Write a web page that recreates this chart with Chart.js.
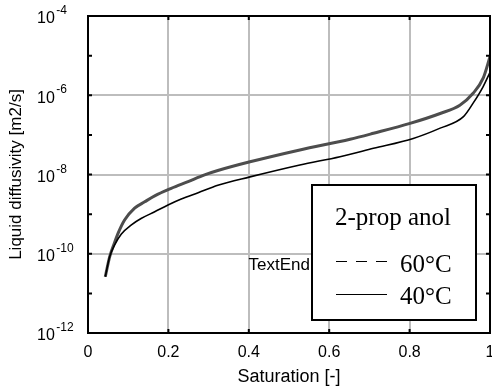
<!DOCTYPE html>
<html>
<head>
<meta charset="utf-8">
<script src="https://cdn.jsdelivr.net/npm/chart.js@4"></script>
<style>
  body { margin: 0; background: #fff; }
</style>
</head>
<body>
<canvas id="myChart" width="492" height="391"></canvas>
<script>
// saturation [-] and log10 of liquid diffusivity [m2/s]
const sat60 = [0.043, 0.054, 0.066, 0.075, 0.091, 0.116, 0.141, 0.166, 0.207, 0.249, 0.290, 0.323, 0.403, 0.527, 0.652, 0.710, 0.801, 0.876, 0.925, 0.958, 0.983, 1.0];
const exp60 = [-10.58, -10.07, -9.72, -9.48, -9.15, -8.85, -8.69, -8.54, -8.35, -8.18, -8.01, -7.90, -7.68, -7.38, -7.11, -6.96, -6.71, -6.46, -6.25, -5.95, -5.57, -5.03];

const sat40 = [0.043, 0.054, 0.066, 0.083, 0.108, 0.132, 0.166, 0.199, 0.232, 0.274, 0.323, 0.403, 0.527, 0.627, 0.710, 0.809, 0.876, 0.934, 0.958, 0.983, 1.0];
const exp40 = [-10.58, -10.07, -9.78, -9.50, -9.27, -9.11, -8.94, -8.77, -8.62, -8.46, -8.27, -8.06, -7.76, -7.55, -7.34, -7.09, -6.83, -6.54, -6.20, -5.78, -5.42];

const seriesLabels = ['60°C', '40°C'];
const legendTitle = '2-prop anol';
const yExps = [-12, -11, -10, -9, -8, -7, -6, -5, -4];
const xMajor = [0.2, 0.4, 0.6, 0.8];

const sans = "'Liberation Sans', Arial, Helvetica, sans-serif";
const serif = "'Liberation Serif', 'Times New Roman', serif";

const toPoints = (xs, es) => xs.map((s, i) => ({x: s, y: Math.pow(10, es[i])}));

const framePlugin = {
  id: 'frame',
  afterDraw(chart) {
    const {ctx, chartArea: a, scales} = chart;
    const x = scales.x, y = scales.y;
    ctx.save();

    // inward tick marks
    ctx.strokeStyle = '#000';
    ctx.lineWidth = 2;
    ctx.beginPath();
    xMajor.forEach(v => {
      const px = x.getPixelForValue(v);
      ctx.moveTo(px, a.top); ctx.lineTo(px, a.top + 4);
      ctx.moveTo(px, a.bottom); ctx.lineTo(px, a.bottom - 4);
    });
    yExps.forEach(e => {
      const py = y.getPixelForValue(Math.pow(10, e));
      ctx.moveTo(a.left, py); ctx.lineTo(a.left + 4, py);
      ctx.moveTo(a.right, py); ctx.lineTo(a.right - 4, py);
    });
    ctx.stroke();

    // frame
    ctx.strokeRect(a.left, a.top, a.right - a.left, a.bottom - a.top);

    // y tick labels with superscript exponent
    ctx.fillStyle = '#000';
    ctx.textAlign = 'left';
    ctx.textBaseline = 'alphabetic';
    yExps.filter(e => e % 2 === 0).forEach(e => {
      const py = y.getPixelForValue(Math.pow(10, e));
      ctx.font = '16px ' + sans;
      ctx.fillText('10', 37, py + 7.3);
      const w = ctx.measureText('10').width;
      ctx.font = '12px ' + sans;
      ctx.fillText('-' + Math.abs(e), 37 + w + 1.5, py - 2);
    });

    // stray label
    ctx.font = '17px ' + sans;
    ctx.textAlign = 'right';
    ctx.fillText('TextEnd', 310, 270);

    // legend box
    const bx = 312, by = 185, bw = 164, bh = 135;
    ctx.fillStyle = '#fff';
    ctx.fillRect(bx, by, bw, bh);
    ctx.lineWidth = 2;
    ctx.strokeRect(bx, by, bw, bh);
    ctx.fillStyle = '#000';
    ctx.textAlign = 'left';
    ctx.font = '25px ' + serif;
    ctx.fillText(legendTitle, 335, 225);

    ctx.lineWidth = 1;
    ctx.setLineDash([11, 9]);
    ctx.beginPath();
    ctx.moveTo(336, 261.5); ctx.lineTo(387, 261.5);
    ctx.stroke();
    ctx.setLineDash([]);
    ctx.beginPath();
    ctx.moveTo(336, 294.5); ctx.lineTo(387, 294.5);
    ctx.stroke();
    ctx.fillText(seriesLabels[0], 400, 272);
    ctx.fillText(seriesLabels[1], 400, 303.5);

    ctx.restore();
  }
};

const myChartRef = document.getElementById('myChart').getContext('2d');
new Chart(myChartRef, {
  type: 'line',
  data: {
    datasets: [
      {
        label: seriesLabels[1],
        data: toPoints(sat40, exp40),
        borderColor: '#000',
        borderWidth: 1.6,
        pointRadius: 0,
        cubicInterpolationMode: 'monotone',
      },
      {
        label: seriesLabels[0],
        data: toPoints(sat60, exp60),
        borderColor: '#4d4d4d',
        borderWidth: 3,
        pointRadius: 0,
        cubicInterpolationMode: 'monotone',
      },
    ],
  },
  options: {
    responsive: false,
    animation: false,
    layout: {padding: {top: 16, right: 2, left: 0, bottom: 0}},
    plugins: {legend: {display: false}, tooltip: {enabled: false}},
    scales: {
      x: {
        type: 'linear',
        min: 0,
        max: 1,
        ticks: {
          stepSize: 0.2,
          color: '#000',
          padding: 10,
          font: {size: 16, family: sans},
          maxRotation: 0,
          callback: v => String(Number(v.toFixed(1))),
        },
        grid: {color: '#bdbdbd', lineWidth: 2, drawTicks: false},
        border: {display: false},
        title: {display: true, text: 'Saturation [-]', color: '#000', font: {size: 18, family: sans}, padding: {top: 0, bottom: 3}},
        afterFit(s) { s.height = 58; s.paddingLeft = 0; s.paddingRight = 0; },
      },
      y: {
        type: 'logarithmic',
        min: 1e-12,
        max: 1e-4,
        afterBuildTicks(s) { s.ticks = yExps.map(e => ({value: Math.pow(10, e)})); },
        ticks: {display: false},
        grid: {
          color: c => (Math.round(Math.log10(c.tick.value)) % 2 === 0 ? '#bdbdbd' : 'rgba(0,0,0,0)'),
          lineWidth: 2,
          drawTicks: false,
        },
        border: {display: false},
        title: {display: true, text: 'Liquid diffusivity [m2/s]', color: '#000', font: {size: 17, family: sans}, padding: {top: 6, bottom: 0}},
        afterFit(s) { s.width = 88; s.paddingTop = 0; s.paddingBottom = 0; },
      },
    },
  },
  plugins: [framePlugin],
});
</script>
</body>
</html>
